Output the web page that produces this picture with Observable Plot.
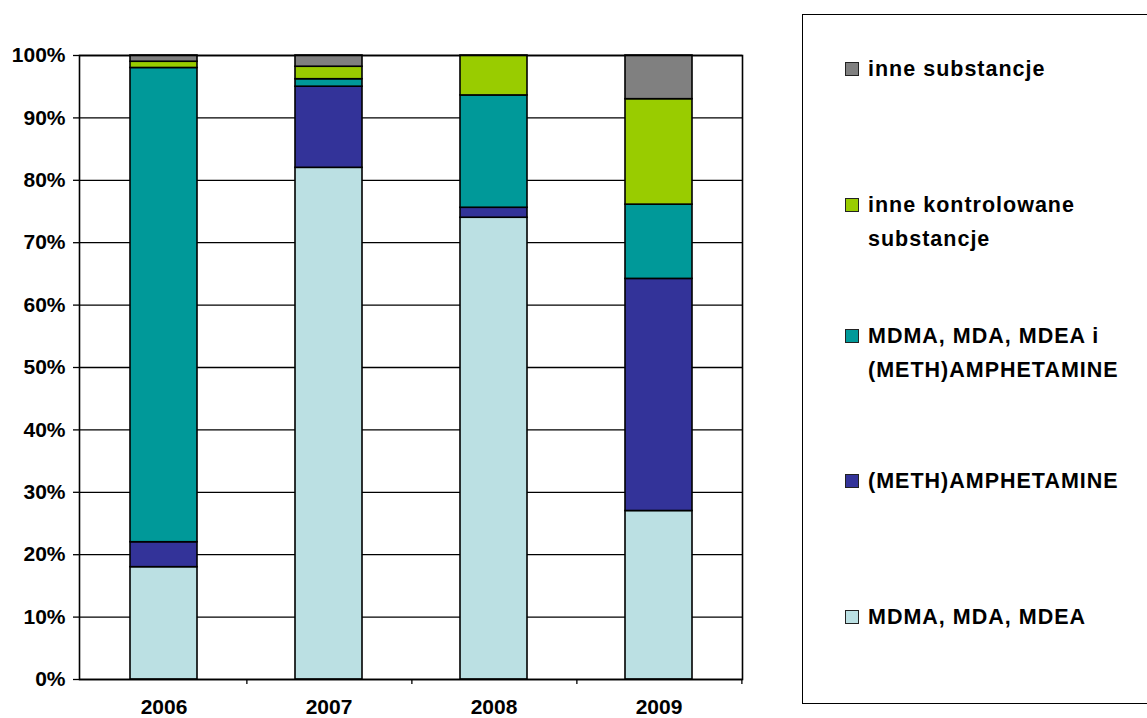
<!DOCTYPE html>
<html>
<head>
<meta charset="utf-8">
<script src="https://cdn.jsdelivr.net/npm/d3@7"></script>
<script src="https://cdn.jsdelivr.net/npm/@observablehq/plot@0.6"></script>
<style>
  html, body { margin: 0; padding: 0; background: #fff; }
  body { width: 1147px; height: 718px; position: relative; overflow: hidden; font-family: "Liberation Sans", Arial, sans-serif; }
  #chart { position: absolute; left: 0; top: 0; }
  #legend { position: absolute; left: 802px; top: 14px; width: 360px; height: 690px; border: 1.5px solid #000; box-sizing: border-box; }
  .item { position: absolute; left: 42px; display: flex; align-items: flex-start; font-weight: bold; font-size: 21.5px; letter-spacing: 1px; line-height: 34px; color: #000; }
  .sw { width: 12px; height: 12px; border: 1.5px solid #222; margin-top: 10px; margin-right: 9px; flex: none; }
</style>
</head>
<body>
<div id="chart"></div>
<div id="legend"></div>
<script>
const years = ["2006", "2007", "2008", "2009"];
const categories = [
  "MDMA, MDA, MDEA",
  "(METH)AMPHETAMINE",
  "MDMA, MDA, MDEA i (METH)AMPHETAMINE",
  "inne kontrolowane substancje",
  "inne substancje"
];
const colors = ["#BBE0E3", "#333399", "#009999", "#99CC00", "#808080"];
const mdma      = [18, 82, 74, 27];
const meth      = [4, 13, 1.6, 37.2];
const mix       = [76, 1.2, 18, 11.9];
const inneKontr = [1, 2, 6.4, 16.9];
const inne      = [1, 1.8, 0, 7.0];
const yTicks = [0, 10, 20, 30, 40, 50, 60, 70, 80, 90, 100];

const series = [mdma, meth, mix, inneKontr, inne];
const data = [];
years.forEach((yr, i) => {
  series.forEach((s, k) => {
    if (s[i] > 0) data.push({year: yr, cat: categories[k], value: s[i]});
  });
});

const W = 760, H = 718;
const mL = 79, mR = 18, mT = 55, mB = 39;
const step = (W - mL - mR) / years.length;

const chart = Plot.plot({
  width: W,
  height: H,
  marginLeft: mL,
  marginRight: mR,
  marginTop: mT,
  marginBottom: mB,
  style: {fontFamily: "'Liberation Sans', Arial, sans-serif", fontWeight: "bold", fontSize: "21px", color: "#000", background: "#fff", overflow: "visible"},
  x: {domain: years, paddingInner: 0.596, paddingOuter: 0.298},
  y: {domain: [0, 100]},
  color: {domain: categories, range: colors},
  marks: [
    Plot.ruleY(yTicks, {stroke: "#000", strokeWidth: 1.3}),
    Plot.barY(data, Plot.stackY({x: "year", y: "value", fill: "cat", stroke: "#000", strokeWidth: 1.6})),
    Plot.frame({stroke: "#000", strokeWidth: 1.6}),
    Plot.axisY({ticks: yTicks, tickFormat: d => d + "%", tickSize: 6, tickPadding: 8, label: null, fontSize: 21, fontWeight: "bold", stroke: "#000", strokeWidth: 1.3}),
    Plot.axisX({tickSize: 5, text: null, dx: step / 2, label: null, stroke: "#000", strokeWidth: 1.3}),
    Plot.axisX({tickSize: 0, tickPadding: 20, label: null, fontSize: 21, fontWeight: "bold"})
  ]
});
document.getElementById("chart").appendChild(chart);

const legendTops = [51, 187, 318, 463, 599];
const order = [4, 3, 2, 1, 0];
const labels = {
  "MDMA, MDA, MDEA i (METH)AMPHETAMINE": "MDMA, MDA, MDEA i<br>(METH)AMPHETAMINE",
  "inne kontrolowane substancje": "inne kontrolowane<br>substancje"
};
const legend = document.getElementById("legend");
order.forEach((k, j) => {
  const it = document.createElement("div");
  it.className = "item";
  it.style.top = (legendTops[j] - 14) + "px";
  const sw = document.createElement("div");
  sw.className = "sw";
  sw.style.background = colors[k];
  const tx = document.createElement("div");
  tx.innerHTML = labels[categories[k]] || categories[k];
  it.appendChild(sw);
  it.appendChild(tx);
  legend.appendChild(it);
});
</script>
</body>
</html>
